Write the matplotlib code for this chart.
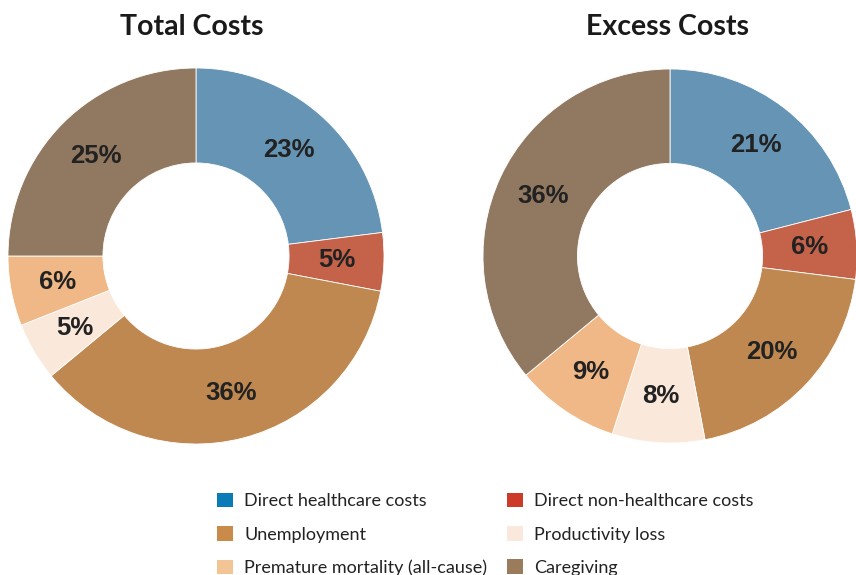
import matplotlib
matplotlib.use("Agg")
import matplotlib.pyplot as plt
from matplotlib.patches import Patch

categories = ["Direct healthcare costs", "Direct non-healthcare costs", "Unemployment",
              "Productivity loss", "Premature mortality (all-cause)", "Caregiving"]
total_costs = [23, 5, 36, 5, 6, 25]
excess_costs = [21, 6, 20, 8, 9, 36]
titles = ["Total Costs", "Excess Costs"]

slice_colors = ["#6594b4", "#c4624a", "#bf8851", "#fae8da", "#f0b886", "#917860"]
legend_colors = ["#0a7bb5", "#cc3a28", "#c98a4a", "#fbe8dc", "#f2c496", "#9a7b5c"]

W, H = 856, 575
fig = plt.figure(figsize=(W / 100, H / 100), dpi=100)

def add_donut(values, title, left_px, top_px, size_px, title_x_px):
    ax = fig.add_axes([left_px / W, 1 - (top_px + size_px) / H, size_px / W, size_px / H])
    wedges, texts, autotexts = ax.pie(
        values, colors=slice_colors, startangle=90, counterclock=False,
        radius=1.0, autopct=lambda p: f"{p:.0f}%", pctdistance=0.75,
        wedgeprops=dict(width=0.505, edgecolor="white", linewidth=0.6))
    for t in autotexts:
        t.set_fontsize(18.5)
        t.set_fontweight("bold")
        t.set_family("Liberation Sans")
        t.set_color("#222222")
    ax.set_xlim(-1, 1)
    ax.set_ylim(-1, 1)
    ax.set_aspect("equal")
    ax.axis("off")
    fig.text(title_x_px / W, 1 - 27 / H, title, ha="center", va="center",
             fontsize=20.5, fontweight="bold", family="Lato", color="#1a1a1a")

add_donut(total_costs, titles[0], 8, 68, 376, 192)
add_donut(excess_costs, titles[1], 483, 69, 374, 668)

order = [0, 2, 4, 1, 3, 5]
handles = [Patch(facecolor=legend_colors[i], edgecolor="none", label=categories[i]) for i in order]
fig.legend(handles=handles, ncol=2, loc="upper left", bbox_to_anchor=(212 / W, 1 - 487.5 / H),
           frameon=False, prop=dict(family="Lato", size=13), handlelength=0.85, handleheight=0.85,
           handletextpad=0.65, columnspacing=1.1, labelspacing=0.93, labelcolor="#222222",
           borderaxespad=0.0, borderpad=0.3)

fig.savefig("out.png", dpi=100, facecolor="white")
